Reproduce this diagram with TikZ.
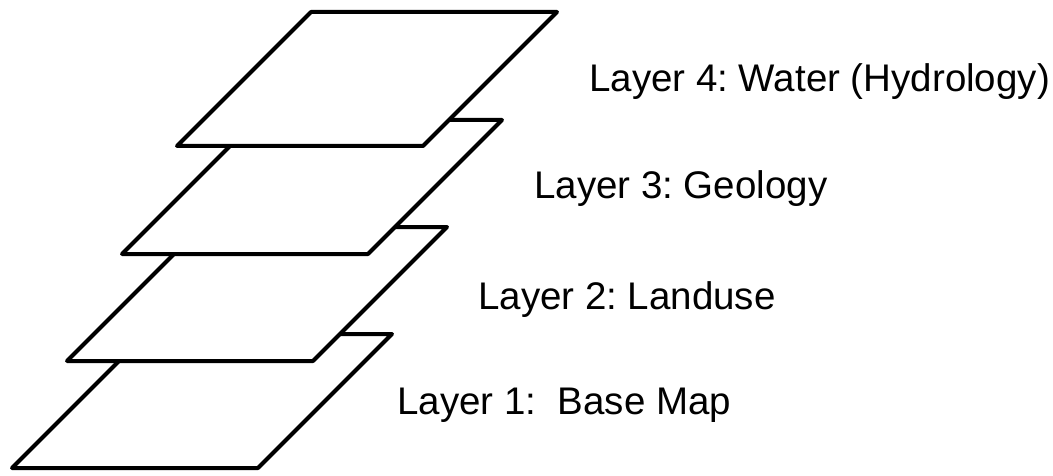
\documentclass[tikz,border=0pt]{standalone}
\usepackage{fontspec}
\setmainfont{Liberation Sans}
\frenchspacing
\begin{document}
\begin{tikzpicture}[x=1pt,y=-1pt,
  sheet/.style = {draw=black, fill=white, line width=4pt, line join=round},
  caption/.style = {anchor=base west, inner sep=0pt, font=\fontsize{38.5}{42}\selectfont}]

  \useasboundingbox (0,0) rectangle (1053,476);

  \filldraw[sheet] (12,468) -- ++(246,0) -- ++(134,-134) -- ++(-246,0) -- cycle;
  \filldraw[sheet] (67,361) -- ++(246,0) -- ++(134,-134) -- ++(-246,0) -- cycle;
  \filldraw[sheet] (122,254) -- ++(246,0) -- ++(134,-134) -- ++(-246,0) -- cycle;
  \filldraw[sheet] (177,146) -- ++(246,0) -- ++(134,-134) -- ++(-246,0) -- cycle;

  \node[caption] (water) at (589,92) {Layer 4: Water (Hydrology)};
  \node[caption] (geology) at (534,199) {Layer 3: Geology};
  \node[caption] (landuse) at (478,309) {Layer 2: Landuse};
  \node[caption] (basemap) at (397,414) {Layer 1:\ \ Base Map};
\end{tikzpicture}
\end{document}
